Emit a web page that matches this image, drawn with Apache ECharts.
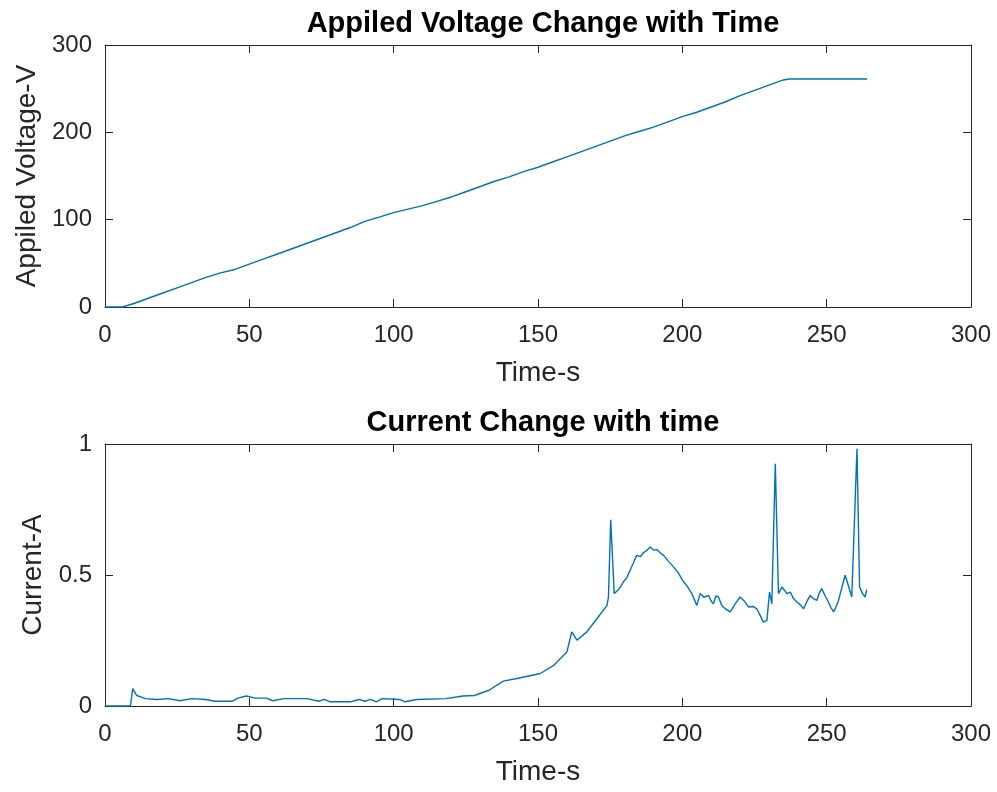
<!DOCTYPE html>
<html>
<head>
<meta charset="utf-8">
<script src="https://cdn.jsdelivr.net/npm/echarts@6/dist/echarts.min.js"></script>
<style>
html,body{margin:0;padding:0;background:#fff;}
#c{width:997px;height:792px;}
</style>
</head>
<body>
<div id="c"></div>
<script>
// ---- data ----
var titleTop = 'Appiled Voltage Change with Time';
var titleBottom = 'Current Change with time';
var xName = 'Time-s';
var yNameTop = 'Appiled Voltage-V';
var yNameBottom = 'Current-A';

var timeV = [0,3,6,10,15,20,25,30,35,40,45,50,55,60,65,70,75,80,85,90,95,100,105,110,115,120,125,130,135,140,145,150,155,160,165,170,175,180,185,190,195,200,205,210,215,220,225,230,235,237,240,250,260,264];
var voltage = [0,0,0,4,10,16,22,28,34,39,43,49,55,61,67,73,79,85,91,98,103,108,112,116,121,126,132,138,144,149,155,160,166,172,178,184,190,196,201,206,212,218,223,229,235,242,248,254,260,261,261,261,261,261];

var timeI = [0,8.8,9.6,11,14,18,22,26,30,35,38,44,46,49,52,56,58,62,70,74,76,78,85,88,90,92,94,96,102,104,108,118,124,128,133,138,142.7,150.8,155.4,160,161.7,163.5,166.9,170.4,173.9,174.4,175.2,176.4,178,179.6,180.8,181.9,183,184.2,185.5,186.5,187.7,188.9,190,191.2,192.3,193.5,195,197,198.5,200.4,201.5,203.3,205,206.2,207.5,209.1,210,210.8,211.6,212.5,213.7,215,216.6,218.3,220,221.5,222.9,224.5,225.8,227,228.1,229.3,230.2,231,232.2,233.3,234.5,235.5,236.2,237.4,238.5,239.7,241,242,243.2,244.3,245.4,246.6,247.4,248.3,249.5,250.6,251.5,252.4,253.3,254.1,255.2,256.4,257.5,258.7,259.3,260.5,261.4,262.4,263.3,263.9];
var current = [0,0,0.066,0.04,0.028,0.025,0.028,0.02,0.028,0.025,0.018,0.018,0.03,0.038,0.03,0.03,0.02,0.028,0.028,0.018,0.025,0.016,0.016,0.025,0.018,0.025,0.016,0.028,0.025,0.016,0.025,0.028,0.038,0.04,0.06,0.095,0.105,0.124,0.155,0.206,0.283,0.251,0.283,0.333,0.384,0.416,0.711,0.429,0.445,0.474,0.49,0.518,0.545,0.575,0.57,0.585,0.594,0.607,0.595,0.597,0.585,0.575,0.555,0.530,0.51,0.474,0.46,0.429,0.384,0.429,0.415,0.422,0.40,0.390,0.42,0.416,0.384,0.37,0.359,0.39,0.416,0.40,0.378,0.38,0.371,0.345,0.320,0.327,0.435,0.390,0.925,0.429,0.454,0.44,0.429,0.435,0.41,0.397,0.385,0.371,0.40,0.422,0.41,0.403,0.43,0.448,0.42,0.397,0.375,0.359,0.38,0.403,0.45,0.499,0.46,0.416,0.422,0.982,0.454,0.43,0.416,0.444];

var xTicks = [0,50,100,150,200,250,300];
var yTicksTop = [0,100,200,300];
var yTicksBottom = [0,0.5,1];

function pairs(xs, ys){ return xs.map(function(x,i){ return [x, ys[i]]; }); }

var FONT = 'Liberation Sans';
var AX = '#262626';

function xAx(grid, pos, showLabels, withName){
  return {
    type:'value', gridIndex:grid, position:pos, min:0, max:300, interval:50,
    axisLine:{show:true, onZero:false, lineStyle:{color:AX, width:1}},
    axisTick:{show:true, inside:true, length:8, lineStyle:{color:AX}},
    axisLabel:{show:showLabels, color:AX, fontFamily:FONT, fontSize:24, margin:16},
    splitLine:{show:false},
    name: withName ? xName : '', nameLocation:'middle', nameGap:52,
    nameTextStyle:{color:AX, fontFamily:FONT, fontSize:28}
  };
}
function yAx(grid, pos, max, interval, showLabels, name, gap, fmt){
  return {
    type:'value', gridIndex:grid, position:pos, min:0, max:max, interval:interval,
    axisLine:{show:true, onZero:false, lineStyle:{color:AX, width:1}},
    axisTick:{show:true, inside:true, length:8, lineStyle:{color:AX}},
    axisLabel:{show:showLabels, color:AX, fontFamily:FONT, fontSize:24, margin:13, formatter:fmt},
    splitLine:{show:false},
    name:name, nameLocation:'middle', nameGap:gap, nameRotate:90,
    nameTextStyle:{color:AX, fontFamily:FONT, fontSize:28}
  };
}

var chart = echarts.init(document.getElementById('c'), null, {renderer:'canvas'});
chart.setOption({
  backgroundColor:'#ffffff',
  animation:false,
  title:[
    {text:titleTop, left:538, top:4, textAlign:'center',
     textStyle:{fontFamily:FONT, fontSize:29, fontWeight:'bold', color:'#000'}},
    {text:titleBottom, left:538, top:403, textAlign:'center',
     textStyle:{fontFamily:FONT, fontSize:29, fontWeight:'bold', color:'#000'}}
  ],
  grid:[
    {left:105, right:26, top:45, height:262, containLabel:false},
    {left:105, right:26, top:444, height:262, containLabel:false}
  ],
  xAxis:[
    xAx(0,'bottom',true,true),
    xAx(0,'top',false,false),
    xAx(1,'bottom',true,true),
    xAx(1,'top',false,false)
  ],
  yAxis:[
    yAx(0,'left',300,100,true,yNameTop,61,function(v){return String(v);}),
    yAx(0,'right',300,100,false,'',0),
    yAx(1,'left',1,0.5,true,yNameBottom,51,function(v){return String(v);}),
    yAx(1,'right',1,0.5,false,'',0)
  ],
  series:[
    {type:'line', xAxisIndex:0, yAxisIndex:0, data:pairs(timeV, voltage), showSymbol:false,
     lineStyle:{color:'#0072BD', width:1.4}, itemStyle:{color:'#0072BD'}},
    {type:'line', xAxisIndex:2, yAxisIndex:2, data:pairs(timeI, current), showSymbol:false,
     lineStyle:{color:'#0072BD', width:1.4}, itemStyle:{color:'#0072BD'}}
  ]
});
</script>
</body>
</html>
